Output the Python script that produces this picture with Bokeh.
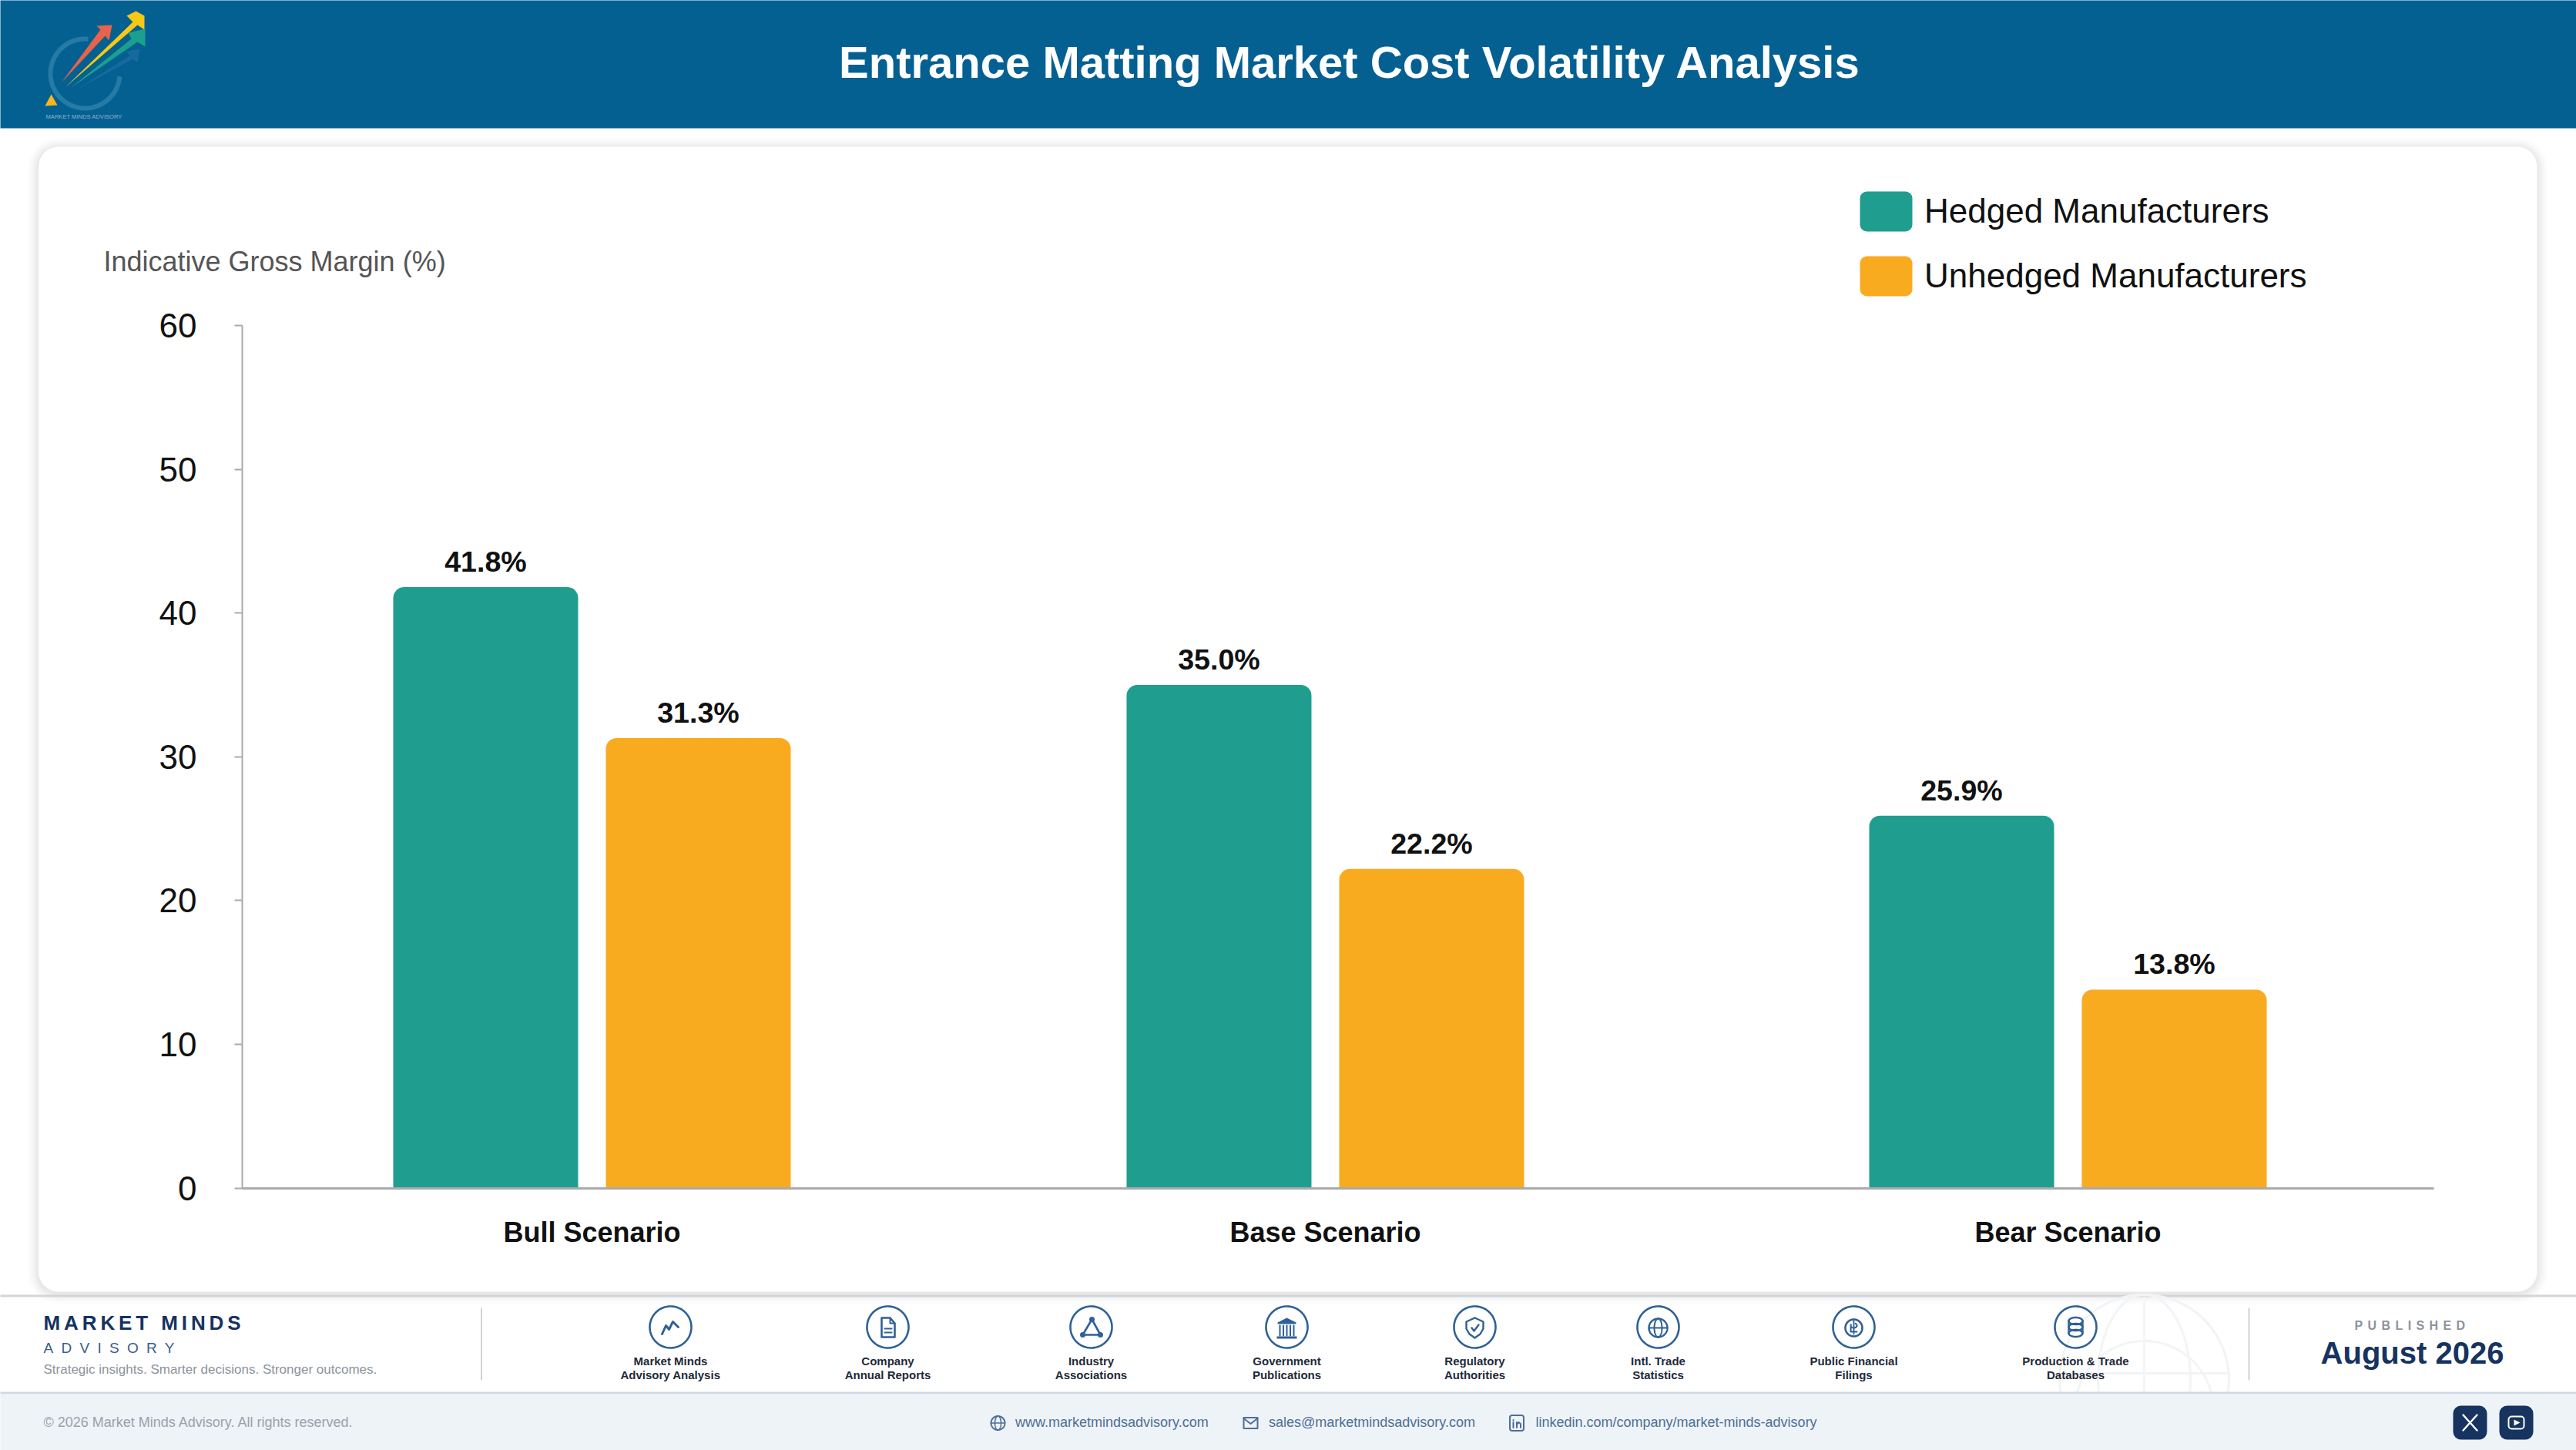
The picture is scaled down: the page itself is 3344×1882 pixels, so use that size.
import numpy as np
from bokeh.plotting import figure
from bokeh.document import Document
from bokeh.embed import file_html
from bokeh.resources import INLINE
from bokeh.core.properties import value
from bokeh.models import (Range1d, LinearAxis, FixedTicker, Legend, LegendItem, CustomJS,
                          CustomJSTickFormatter)

# ---------- chart data ----------
categories = ["Bull Scenario", "Base Scenario", "Bear Scenario"]
hedged = [41.8, 35.0, 25.9]
unhedged = [31.3, 22.2, 13.8]
series_names = ["Hedged Manufacturers", "Unhedged Manufacturers"]
y_ticks = [0, 10, 20, 30, 40, 50, 60]
source_labels = [["Market Minds", "Advisory Analysis"], ["Company", "Annual Reports"],
                 ["Industry", "Associations"], ["Government", "Publications"],
                 ["Regulatory", "Authorities"], ["Intl. Trade", "Statistics"],
                 ["Public Financial", "Filings"], ["Production & Trade", "Databases"]]

# ---------- layout ----------
W, H = 3344, 1882
TEAL, ORANGE = "#1f9e8f", "#f9ab20"
NAVY, BLUE = "#17335f", "#2f6096"
FONT = "Liberation Sans"
BASE_K = 0.367                        # svg baseline correction, in em
group_slots = [0, 0.9937, 2]          # group centres on the category scale (slightly uneven)
PX_X = 958.0                          # px per category slot
X0 = 768.0                            # px of first group
BAR_W = 240 / PX_X
DODGE = 138 / PX_X
Y_ZERO, Y_TOP = 1541.5, 422.0
PX_Y = (Y_ZERO - Y_TOP) / 60

p = figure(width=W, height=H, output_backend="svg", toolbar_location=None,
           x_range=Range1d(0, W), y_range=Range1d(H, 0),
           min_border=0, min_border_left=0, min_border_right=0, min_border_top=0, min_border_bottom=0,
           x_axis_location=None, y_axis_location=None, outline_line_color=None,
           background_fill_color="white", border_fill_color="white",
           styles={"position": "absolute", "left": "0px", "top": "0px"})
p.grid.visible = False
p.extra_x_ranges["cat"] = Range1d(-X0 / PX_X, (W - X0) / PX_X)
p.extra_y_ranges["val"] = Range1d(-(H - Y_ZERO) / PX_Y, Y_ZERO / PX_Y)


def box(l, t, r, b, color, radius=0, alpha=1.0):
    p.quad(left=[l], right=[r], top=[t], bottom=[b], fill_color=color, fill_alpha=alpha,
           line_color=None, border_radius=radius)


def txt(x, y, s, size, color, bold=False, align="left", alpha=1.0):
    p.text(x=[x], y=[y - BASE_K * size], text=[s], text_font=value(FONT), text_font_size=f"{size}px",
           text_color=color, text_font_style="bold" if bold else "normal", text_align=align,
           text_baseline="alphabetic", text_alpha=alpha)


def line(pts, color=BLUE, w=2.5, alpha=1.0):
    a = np.array(pts, dtype=float)
    p.line(a[:, 0], a[:, 1], line_color=color, line_width=w, line_alpha=alpha, line_join="round", line_cap="round")


def poly(pts, color, alpha=1.0):
    a = np.array(pts, dtype=float)
    p.patch(a[:, 0], a[:, 1], fill_color=color, fill_alpha=alpha, line_color=None)


def ring(cx, cy, r, color=BLUE, w=2.5, alpha=1.0, ry=None, a0=0, a1=360):
    t = np.radians(np.linspace(a0, a1, 90))
    ry = r if ry is None else ry
    p.line(cx + r * np.cos(t), cy + ry * np.sin(t), line_color=color, line_width=w, line_alpha=alpha)


# ---------- card shadow and card ----------
for i, a in zip(range(14, 0, -2), [0.006, 0.008, 0.010, 0.012, 0.014, 0.016, 0.02]):
    box(49 - i, 190 - i + 2, 3293 + i, 1676 + i + 2, "#000000", radius=26 + i, alpha=a)
box(49.5, 190, 3293, 1676, "white", radius=26)

# ---------- header ----------
box(-10, -10, W + 10, 166, "#056092")
# logo
ring(110, 95, 45, "#2a7ea8", 6, 0.9, a0=5, a1=275)
poly([(79, 107), (130, 38), (125, 33), (145, 32), (141, 52), (136, 46)], "#e8634a")
poly([(84, 113), (172, 28), (164, 20), (176, 14), (187, 20), (187, 38), (178, 32)], "#f8c912")
poly([(92, 113), (170, 50), (166, 42), (188, 37), (188, 60), (178, 54)], "#1c9f8e")
poly([(100, 115), (168, 72), (164, 66), (181, 63), (178, 80), (172, 76)], "#1f6fa6", 0.7)
poly([(66, 122), (74, 136), (58, 137)], "#f9b61c")
txt(59, 154, "MARKET MINDS ADVISORY", 7.6, "#8fb4cc")
txt(1752, 101.7, "Entrance Matting Market Cost Volatility Analysis", 58, "white", True, "center")

# ---------- chart: bars drawn through the value and category scales ----------
x_h = [c - DODGE for c in group_slots]
x_u = [c + DODGE for c in group_slots]
r_h = p.vbar(x=x_h, top=hedged, bottom=0, width=BAR_W, fill_color=TEAL, line_color=None,
             x_range_name="cat", y_range_name="val", border_radius=(14, 14, 0, 0))
r_u = p.vbar(x=x_u, top=unhedged, bottom=0, width=BAR_W, fill_color=ORANGE, line_color=None,
             x_range_name="cat", y_range_name="val", border_radius=(14, 14, 0, 0))
for xs, vals in ((x_h, hedged), (x_u, unhedged)):
    p.text(x=xs, y=vals, text=[f"{v:.1f}%" for v in vals], x_range_name="cat", y_range_name="val",
           text_font=value(FONT), text_font_style="bold", text_font_size="37.6px", text_color="#111111",
           text_align="center", text_baseline="alphabetic", y_offset=-33.2)

y_axis = LinearAxis(y_range_name="val", fixed_location=314, bounds=(0, 60), ticker=FixedTicker(ticks=y_ticks),
                    axis_line_color="#aaaaaa", axis_line_width=2, major_tick_line_color="#aaaaaa",
                    major_tick_line_width=2, major_tick_in=0, major_tick_out=10, minor_tick_line_color=None,
                    major_label_text_font=FONT, major_label_text_font_size="44px",
                    major_label_text_color="#111111", major_label_standoff=49)
p.add_layout(y_axis, "left")
x_axis = LinearAxis(x_range_name="cat", fixed_location=Y_ZERO, ticker=FixedTicker(ticks=group_slots),
                    bounds=((314 - X0) / PX_X, (3159 - X0) / PX_X),
                    formatter=CustomJSTickFormatter(args=dict(slots=group_slots, names=categories),
                                                    code="return names[slots.indexOf(tick)]"),
                    axis_line_color="#aaaaaa", axis_line_width=3, major_tick_line_color=None,
                    minor_tick_line_color=None, major_label_text_font=FONT, major_label_text_font_size="36px",
                    major_label_text_font_style="bold", major_label_text_color="#111111", major_label_standoff=31)
p.add_layout(x_axis, "below")
txt(134, 352, "Indicative Gross Margin (%)", 36, "#555555")

# legend: rounded swatches underneath, real legend labels above
box(2414, 248, 2482, 300, TEAL, radius=9)
box(2414, 332, 2482, 384, ORANGE, radius=9)
g_h = p.vbar(x=x_h, top=hedged, width=BAR_W, fill_alpha=0, line_alpha=0, x_range_name="cat", y_range_name="val")
g_u = p.vbar(x=x_u, top=unhedged, width=BAR_W, fill_alpha=0, line_alpha=0, x_range_name="cat", y_range_name="val")
legend = Legend(items=[LegendItem(label=series_names[0], renderers=[g_h]),
                       LegendItem(label=series_names[1], renderers=[g_u])],
                location=(2414, H - 384), orientation="vertical", margin=0, padding=0, spacing=32,
                glyph_width=68, glyph_height=52, label_standoff=16, label_height=52,
                label_text_font=FONT, label_text_font_size="44px", label_text_color="#111111",
                background_fill_alpha=0, border_line_color=None)
p.add_layout(legend, "center")

# ---------- footer ----------
box(-10, 1680, W + 10, 1683, "#d2d5da")
# faint globe watermark
ring(2783, 1790, 110, "#f1f3f5", 3)
ring(2783, 1790, 60, "#f3f4f6", 3, ry=110)
ring(2783, 1830, 90, "#f3f4f6", 3)
line([(2674, 1782), (2893, 1782)], "#f1f3f5", 3)
line([(2783, 1684), (2783, 1806)], "#f4f5f7", 3)

box(-10, 1806, W + 10, 1809, "#ced8e4")
box(-10, 1809, W + 10, H + 10, "#eef3f8")

txt(56, 1726, "MARKET MINDS", 26, NAVY, True)
txt(56, 1756, "ADVISORY", 19, "#3a5d8f")
txt(56, 1783, "Strategic insights. Smarter decisions. Stronger outcomes.", 17, "#8c939d")
line([(624.5, 1698), (624.5, 1790)], "#cfd2d6", 2)
line([(2919, 1698), (2919, 1790)], "#cfd2d6", 2)

icon_x = [870, 1152, 1416, 1670, 1914, 2152, 2406, 2694]
ICY = 1722
for cx, lines in zip(icon_x, source_labels):
    ring(cx, ICY, 27, BLUE, 2.6)
    txt(cx, 1771.7, lines[0], 15, "#1e2a3a", True, "center")
    txt(cx, 1789.5, lines[1], 15, "#1e2a3a", True, "center")

# 1 trend
c = icon_x[0]
line([(c - 11, ICY + 9), (c - 6, ICY - 2), (c - 2, ICY + 3), (c + 3, ICY - 7), (c + 10, ICY + 0)], BLUE, 3)
# 2 document
c = icon_x[1]
line([(c - 8, ICY - 12), (c + 3, ICY - 12), (c + 9, ICY - 5), (c + 9, ICY + 13), (c - 8, ICY + 13), (c - 8, ICY - 12)], BLUE, 2.6)
line([(c + 3, ICY - 12), (c + 3, ICY - 5), (c + 9, ICY - 5)], BLUE, 2)
line([(c - 4, ICY + 2), (c + 5, ICY + 2)], BLUE, 2)
line([(c - 4, ICY + 7), (c + 5, ICY + 7)], BLUE, 2)
# 3 network triangle
c = icon_x[2]
line([(c + 1, ICY - 10), (c - 11, ICY + 10), (c + 12, ICY + 10), (c + 1, ICY - 10)], BLUE, 2.6)
p.circle([c + 1, c - 11, c + 12], [ICY - 10, ICY + 10, ICY + 10], radius=3.5, fill_color=BLUE, line_color=None)
# 4 institution
c = icon_x[3]
poly([(c - 12, ICY - 6), (c, ICY - 12), (c + 12, ICY - 6), (c + 12, ICY - 4), (c - 12, ICY - 4)], BLUE)
for dx in (-9, -4.5, 0, 4.5, 9):
    line([(c + dx, ICY - 2), (c + dx, ICY + 11)], BLUE, 2)
box(c - 13, ICY + 12, c + 13, ICY + 15, BLUE)
# 5 shield
c = icon_x[4]
line([(c, ICY - 12), (c + 11, ICY - 7), (c + 11, ICY + 2), (c + 7, ICY + 9), (c, ICY + 14), (c - 7, ICY + 9),
      (c - 11, ICY + 2), (c - 11, ICY - 7), (c, ICY - 12)], BLUE, 2.4)
line([(c - 4, ICY + 1), (c - 1, ICY + 5), (c + 5, ICY - 3)], BLUE, 2.4)
# 6 globe
c = icon_x[5]
ring(c, ICY + 1, 12, BLUE, 2.4)
ring(c, ICY + 1, 5, BLUE, 2, ry=12)
line([(c - 12, ICY + 1), (c + 12, ICY + 1)], BLUE, 2)
# 7 coin
c = icon_x[6]
ring(c, ICY + 1, 11, BLUE, 2.6)
t = np.radians(np.linspace(-60, 200, 30))
line(list(zip(c + 4 * np.cos(t), ICY - 2 + 3 * np.sin(t))) + [(c - 4, ICY + 6), (c + 4, ICY + 6)], BLUE, 2)
line([(c, ICY - 8), (c, ICY + 9)], BLUE, 1.8)
# 8 database
c = icon_x[7]
for dy in (-8, 0, 8):
    ring(c, ICY + dy, 9, BLUE, 2.4, ry=4.5)
line([(c - 9, ICY - 8), (c - 9, ICY + 8)], BLUE, 2.4)
line([(c + 9, ICY - 8), (c + 9, ICY + 8)], BLUE, 2.4)

txt(3056, 1726, "PUBLISHED", 16, "#8c939d", True, "left")
txt(3131, 1770, "August 2026", 40, NAVY, True, "center")

# bottom bar
CY = 1846.5
txt(56, 1852, "\u00a9 2026 Market Minds Advisory. All rights reserved.", 18, "#9aa1ab")
LINK = "#4d6f96"
txt(1317.5, 1852, "www.marketmindsadvisory.com", 18, LINK)
txt(1646.5, 1852, "sales@marketmindsadvisory.com", 18, LINK)
txt(1993, 1852, "linkedin.com/company/market-minds-advisory", 18, LINK)
ring(1295, CY, 9, LINK, 2)
ring(1295, CY, 4, LINK, 1.6, ry=9)
line([(1286, CY), (1304, CY)], LINK, 1.6)
line([(1614, CY - 7), (1632, CY - 7), (1632, CY + 7), (1614, CY + 7), (1614, CY - 7)], LINK, 2)
line([(1614, CY - 6), (1623, CY + 1), (1632, CY - 6)], LINK, 2)
p.quad(left=[1959.5], right=[1977.5], top=[CY - 10], bottom=[CY + 10], fill_color=None, line_color=LINK,
       line_width=2, border_radius=3)
line([(1964, CY - 1), (1964, CY + 6)], LINK, 2)
line([(1964, CY - 4), (1964, CY - 3.5)], LINK, 2)
line([(1968.5, CY + 6), (1968.5, CY - 1)], LINK, 2)
line([(1968.5, CY + 2), (1971, CY - 1), (1973.5, CY + 1), (1973.5, CY + 6)], LINK, 2)

box(3184, 1824, 3228, 1868, NAVY, radius=10)
box(3244, 1824, 3288, 1868, NAVY, radius=10)
line([(3197, 1836), (3215, 1856)], "white", 2.4)
line([(3215, 1836), (3197, 1856)], "white", 2.4)
p.quad(left=[3256], right=[3276], top=[1838], bottom=[1854], fill_color=None, line_color="white",
       line_width=2, border_radius=4)
poly([(3263, 1842), (3271, 1846), (3263, 1850)], "white")

# letter spacing of the brand strings (not a Bokeh text property)
spacing = {"MARKET MINDS": 4.9, "ADVISORY": 10.3, "PUBLISHED": 6.4}
cb = CustomJS(args=dict(spacing=spacing), code="""
const m = spacing instanceof Map ? spacing : new Map(Object.entries(spacing));
function walk(root) {
  for (const el of root.querySelectorAll('*')) {
    if (el.shadowRoot) walk(el.shadowRoot);
    if (el.tagName.toLowerCase() === 'text' && m.has(el.textContent))
      el.setAttribute('letter-spacing', String(m.get(el.textContent)));
  }
}
if (!window.__ls) { window.__ls = setInterval(() => walk(document), 100); }
walk(document);
""")
p.js_on_change("inner_width", cb)
p.js_on_change("inner_height", cb)
doc = Document()
doc.add_root(p)
doc.js_on_event("document_ready", cb)

open("out.html", "w").write(file_html(p, INLINE))
